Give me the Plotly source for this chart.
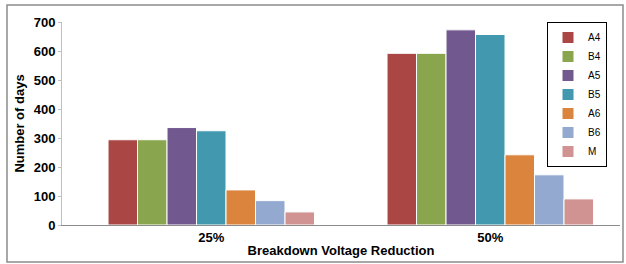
import plotly.graph_objects as go

categories = ["25%", "50%"]
series_names = ["A4", "B4", "A5", "B5", "A6", "B6", "M"]
values = {
    "A4": [294, 592],
    "B4": [294, 592],
    "A5": [336, 673],
    "B5": [325, 657],
    "A6": [121, 242],
    "B6": [84, 173],
    "M": [45, 90],
}
colors = ["#AA4643", "#89A54E", "#71588F", "#4198AF", "#DB843D", "#93A9CF", "#D19392"]
y_ticks = [0, 100, 200, 300, 400, 500, 600, 700]

fig = go.Figure()
for name, col in zip(series_names, colors):
    fig.add_trace(go.Bar(
        x=categories, y=values[name], name=name,
        marker=dict(color=col, line=dict(color="white", width=1)),
    ))

W, H = 626, 264
L, R, T, B = 62, 6, 22, 39
pw, ph = W - L - R, H - T - B

font_family = "Liberation Sans, Arial, sans-serif"
fig.update_layout(
    width=W, height=H,
    margin=dict(l=L, r=R, t=T, b=B),
    paper_bgcolor="white", plot_bgcolor="white",
    barmode="group", bargap=0.26, bargroupgap=0.0,
    font=dict(family=font_family, color="black"),
    showlegend=True,
    legend=dict(
        x=(607 - L) / pw, y=1.0, xanchor="right", yanchor="top",
        bgcolor="white", bordercolor="black", borderwidth=1,
        font=dict(size=10, color="black"),
        tracegroupgap=0, itemwidth=30,
    ),
    xaxis=dict(
        type="category", range=[-0.535, 1.465],
        showline=True, linecolor="#8c8c8c", linewidth=1,
        ticks="", tickfont=dict(size=13, family=font_family, weight="bold"),
        title=dict(text="<b>Breakdown Voltage Reduction</b>", font=dict(size=13), standoff=2),
        showgrid=False, zeroline=False,
    ),
    yaxis=dict(
        range=[0, 700], tickvals=y_ticks, ticktext=[str(v) for v in y_ticks],
        showline=True, linecolor="#bfbfbf", linewidth=1,
        ticks="outside", ticklen=3, tickcolor="#bfbfbf",
        tickfont=dict(size=13, family=font_family, weight="bold"),
        title=dict(text="<b>Number of days</b>", font=dict(size=13), standoff=6),
        showgrid=False, zeroline=False,
    ),
    shapes=[dict(type="rect", xref="paper", yref="paper",
                 x0=(7 - L) / pw, x1=(623 - L) / pw,
                 y0=(H - B - 262) / ph, y1=(H - B - 5) / ph,
                 line=dict(color="#8c8c8c", width=1.5), fillcolor="rgba(0,0,0,0)")],
)

fig.write_html("out.html", config={"displayModeBar": False},
               post_script="document.body.style.margin='0';")
